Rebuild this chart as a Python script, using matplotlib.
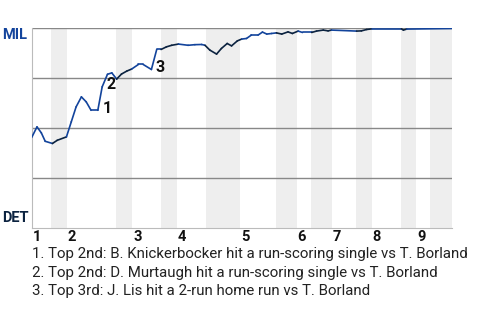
import numpy as np
import matplotlib.pyplot as plt
from matplotlib.collections import LineCollection

plt.rcParams['font.family'] = ['Roboto', 'DejaVu Sans']

# Eje x: progreso del juego en turnos al bate; eje y: prob. de victoria de MIL (%)
x_pa = [0, 1.1, 2.0, 2.8, 4.3, 5.3, 7.2, 8.2, 9.2, 10.3, 11.3, 12.3, 13.7, 14.6,
        15.7, 16.6, 17.6, 18.6, 19.7, 20.7, 22.1, 23.1, 24.8, 25.9, 26.8, 27.9,
        29.0, 30.4, 32.4, 33.8, 35.2, 35.9, 36.9, 38.3, 39.3, 40.5, 41.4, 42.6,
        43.5, 44.5, 45.5, 46.9, 47.8, 48.7, 49.7, 50.7, 51.8, 53.1, 54.0, 55.2,
        56.1, 58.0, 59.0, 60.4, 61.4, 62.1, 67.3, 68.3, 69.4, 70.4, 76.6, 77.0,
        77.7, 87.0]
win_prob = [45.5, 50.8, 47.8, 43.6, 42.5, 44.1, 45.8, 53.3, 60.8, 65.8, 63.3,
            59.1, 59.1, 70.8, 77.1, 77.8, 74.7, 77.2, 78.7, 79.7, 82.0, 82.0,
            79.5, 89.5, 89.5, 90.8, 91.6, 92.2, 91.6, 91.9, 92.0, 91.6, 89.2,
            87.2, 90.0, 92.5, 91.3, 93.8, 94.7, 95.0, 96.7, 96.7, 98.2, 97.2,
            97.5, 97.8, 97.2, 98.3, 97.5, 98.7, 98.0, 98.0, 98.7, 99.2, 98.8,
            99.2, 98.7, 98.8, 99.5, 99.8, 99.8, 99.2, 99.7, 100.0]

# Inicio de cada media entrada (alta, baja) por entrada
half_starts = [0, 4.0, 7.3, 17.5, 20.8, 26.8, 30.1, 36.1, 43.1, 50.6, 54.9,
               57.8, 62.2, 67.1, 70.4, 76.4, 79.7, 82.6, 87.0]
innings = ['1', '2', '3', '4', '5', '6', '7', '8', '9']

# Jugadas destacadas (índice del punto donde comienza la jugada)
event_idx = [12, 13, 22]
event_labels = ['1', '2', '3']
notes = ['1. Top 2nd: B. Knickerbocker hit a run-scoring single vs T. Borland',
         '2. Top 2nd: D. Murtaugh hit a run-scoring single vs T. Borland',
         '3. Top 3rd: J. Lis hit a 2-run home run vs T. Borland']

mil_color = '#13449c'
det_color = '#0c2340'

fig = plt.figure(figsize=(4.8, 3.2), dpi=100)
ax = fig.add_axes([0.066, 0.286, 0.875, 0.625])

# Bandas grises para la parte baja de cada entrada
for i in range(9):
    ax.axvspan(half_starts[2 * i + 1], half_starts[2 * i + 2],
               color='#eeeeee', lw=0, zorder=0)

for yv in [25, 50, 75, 100]:
    ax.axhline(yv, color='#888888', lw=1, zorder=1)

# Línea coloreada según el equipo al bate
pts = np.column_stack([x_pa, win_prob])
segs = np.stack([pts[:-1], pts[1:]], axis=1)
mids = (pts[:-1, 0] + pts[1:, 0]) / 2
half = np.searchsorted(half_starts, mids) - 1
colors = [mil_color if h % 2 == 0 else det_color for h in half]
ax.add_collection(LineCollection(segs, colors=colors, linewidths=1.2, zorder=3,
                                 capstyle='round', joinstyle='round'))

for i, lab in zip(event_idx, event_labels):
    ax.annotate(lab, (x_pa[i], win_prob[i]), xytext=(3.2, 1.5),
                textcoords='offset points', ha='left', va='center',
                fontsize=11.5, fontweight='bold', color='#111111', zorder=4)

ax.set_xlim(0, 87)
ax.set_ylim(0, 100)
ax.set_xticks([])
ax.set_yticks([])
for s in ['top', 'right']:
    ax.spines[s].set_visible(False)
ax.spines['left'].set_color('#bbbbbb')
ax.spines['bottom'].set_color('#bbbbbb')

trans = ax.get_xaxis_transform()
for i, lab in enumerate(innings):
    ax.text(half_starts[2 * i] + 0.2, -0.01, lab, transform=trans, ha='left',
            va='top', fontsize=10.5, fontweight='bold', color='#111111')

fig.text(0.057, 0.891, 'MIL', ha='right', va='center', fontsize=10.5,
         fontweight='bold', color=mil_color)
fig.text(0.059, 0.319, 'DET', ha='right', va='center', fontsize=10.5,
         fontweight='bold', color=det_color)

for k, note in enumerate(notes):
    fig.text(0.066, 1 - (254 + 18.5 * k) / 320, note, ha='left', va='center',
             fontsize=10.8, color='#222222')

fig.savefig('out.png', dpi=100)
